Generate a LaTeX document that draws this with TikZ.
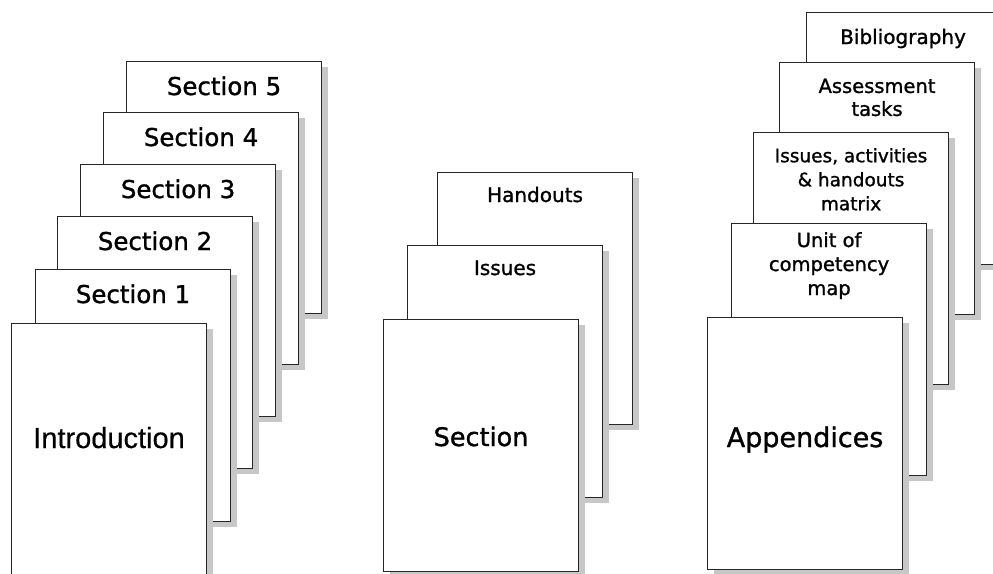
\documentclass[tikz,border=0pt]{standalone}
\usepackage{fontspec}
\setmainfont{DejaVu Sans}[FakeBold=1.2]
\newfontfamily\arialfont{Liberation Sans}[FakeBold=0.4]
\usetikzlibrary{shadows}
\tikzset{
  pagebox/.style={draw=black!85, line width=1.1pt, fill=white,
    minimum width=195pt, minimum height=252pt, inner sep=0pt,
    anchor=north west,
    drop shadow={shadow xshift=6pt, shadow yshift=-5pt, fill=black!22, opacity=1}},
  lbl/.style={anchor=base, inner sep=0pt, text=black},
  mlbl/.style={anchor=north, inner sep=0pt, align=center, text=black},
  secfont/.style={font=\fontsize{24.5}{29}\selectfont},
  bigfont/.style={font=\fontsize{25.5}{30}\selectfont},
  smallfont/.style={font=\fontsize{20}{24}\selectfont},
}
\begin{document}
\begin{tikzpicture}[x=1pt,y=-1pt]
\useasboundingbox (0,0) rectangle (993,573);
\clip (0,0) rectangle (993,573);

% ---- left stack ----
\node[pagebox] (s5) at (126,61) {};
\node[lbl, secfont] (t5) at ([yshift=-34pt]s5.north) {Section 5};
\node[pagebox] (s4) at (103,112) {};
\node[lbl, secfont] (t4) at ([yshift=-34pt]s4.north) {Section 4};
\node[pagebox] (s3) at (80,164) {};
\node[lbl, secfont] (t3) at ([yshift=-34pt]s3.north) {Section 3};
\node[pagebox] (s2) at (57,216) {};
\node[lbl, secfont] (t2) at ([yshift=-34pt]s2.north) {Section 2};
\node[pagebox] (s1) at (35,269) {};
\node[lbl, secfont] (t1) at ([yshift=-34pt]s1.north) {Section 1};
\node[pagebox] (intro) at (11,323) {};
\node[lbl, font=\arialfont\fontsize{29}{34}\selectfont] (tintro) at ([yshift=-125pt]intro.north) {Introduction};

% ---- middle stack ----
\node[pagebox] (hand) at (437,172) {};
\node[lbl, smallfont] (thand) at ([yshift=-30pt]hand.north) {Handouts};
\node[pagebox] (iss) at (407,245) {};
\node[lbl, smallfont] (tiss) at ([yshift=-30pt]iss.north) {Issues};
\node[pagebox] (sec) at (383,319) {};
\node[lbl, bigfont] (tsec) at ([yshift=-127pt]sec.north) {Section};

% ---- right stack ----
\node[pagebox] (bib) at (806,12) {};
\node[lbl, font=\fontsize{20}{24}\selectfont] (tbib) at ([yshift=-32pt,xshift=-1pt]bib.north) {Bibliography};
\node[pagebox] (ass) at (779,62) {};
\node[mlbl, font=\fontsize{19.5}{23}\selectfont] (tass) at ([yshift=-16.5pt]ass.north) {Assessment\\tasks};
\node[pagebox] (iah) at (753,132) {};
\node[mlbl, font=\fontsize{18.5}{24}\selectfont] (tiah) at ([yshift=-16pt]iah.north) {Issues, activities\\\& handouts\\matrix};
\node[pagebox] (unit) at (731,223) {};
\node[mlbl, font=\fontsize{19.5}{24}\selectfont] (tunit) at ([yshift=-9pt]unit.north) {Unit of\\competency\\map};
\node[pagebox] (app) at (707,317) {};
\node[lbl, font=\fontsize{27}{32}\selectfont] (tapp) at ([yshift=-130pt]app.north) {Appendices};
\end{tikzpicture}
\end{document}
